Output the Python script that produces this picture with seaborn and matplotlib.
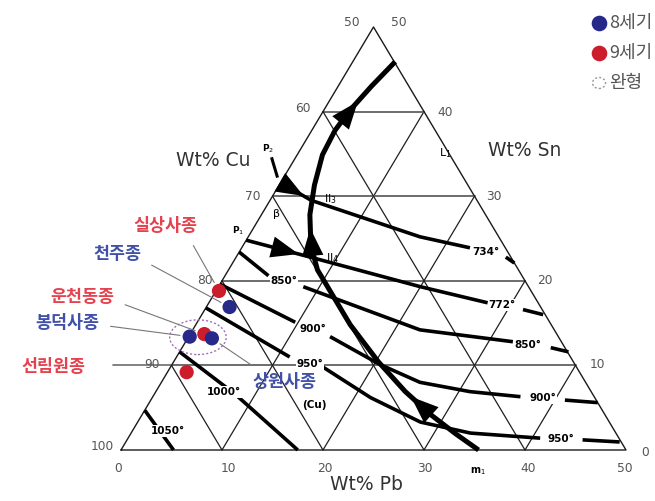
import numpy as np
import pandas as pd
import matplotlib
matplotlib.use("Agg")
import matplotlib.pyplot as plt
from matplotlib.patches import Ellipse
import seaborn as sns

# ---- bell compositions (Wt% Pb, Wt% Sn; Cu is the balance) ----
bell_names = ["실상사종", "천주종", "운천동종", "봉덕사종", "상원사종", "선림원종"]
bell_pb = [0.3, 2.3, 1.4, 0.1, 2.4, 1.9]
bell_sn = [18.8, 16.9, 13.7, 13.4, 13.2, 9.2]
bell_century = ["9세기", "8세기", "9세기", "8세기", "8세기", "9세기"]

# ---- liquidus valley (m1 up to the Sn side) ----
valley_pb = [4.2, 3.3, 2.6, 2.3, 2.5, 3.5, 4.8, 6.7, 8.8, 11.4, 15.3, 20.3, 24.7, 28.7, 32.2, 35.4]
valley_sn = [45.9, 43.0, 40.2, 37.8, 34.9, 31.3, 27.8, 24.2, 21.3, 18.7, 14.8, 10.4, 6.9, 4.1, 1.9, 0.0]

# ---- univariant lines from P2 / P1 and isotherms ----
p2_tick_pb, p2_tick_sn = [-2.4, -0.6], [34.6, 32.2]
p2_pb, p2_sn = [0.0, 4.1], [31.6, 29.5]
p1_pb, p1_sn = [0.0, 7.7], [24.8, 22.7]
iso734_pb, iso734_sn = [4.1, 17.0, 22.6], [29.5, 25.2, 23.9]
iso734_tail_pb, iso734_tail_sn = [26.7, 27.9], [22.8, 22.1]
iso772_pb, iso772_sn = [7.7, 20.0, 27.6], [22.7, 19.3, 17.4]
iso772_tail_pb, iso772_tail_sn = [31.5, 33.8], [16.6, 16.0]
iso850a_pb, iso850a_sn = [0.0, 4.3], [23.4, 20.6]
iso850b_pb, iso850b_sn = [8.4, 22.5, 32.4], [19.3, 14.2, 12.8]
iso850_tail_pb, iso850_tail_sn = [36.5, 38.5], [12.1, 11.6]
iso900a_pb, iso900a_sn = [0.0, 9.7], [19.6, 15.1]
iso900b_pb, iso900b_sn = [14.0, 20.6, 25.6, 31.1, 36.4], [13.4, 10.1, 8.0, 6.9, 6.3]
iso900_tail_pb, iso900_tail_sn = [41.0, 44.4], [5.9, 5.6]
iso950a_pb, iso950a_sn = [0.0, 11.2], [16.8, 11.0]
iso950b_pb, iso950b_sn = [15.1, 21.6, 28.0, 33.6, 40.8], [9.8, 6.2, 3.3, 2.0, 1.4]
iso950_tail_pb, iso950_tail_sn = [45.1, 48.9], [1.2, 0.95]
iso1000_pb, iso1000_sn = [0.0, 8.0, 17.5], [11.6, 6.6, 0.0]
iso1050_pb, iso1050_sn = [0.0, 5.2], [4.7, 0.0]

grid_steps = [10, 20, 30, 40]
cu_ticks = ["100", "90", "80", "70", "60", "50"]
sn_ticks = ["0", "10", "20", "30", "40", "50"]
pb_ticks = ["0", "10", "20", "30", "40", "50"]

RED_TXT = "#e5424f"
BLUE_TXT = "#4150a8"
century_colors = {"8세기": "#26288a", "9세기": "#cc1d2c"}

sns.set_theme(style="white")
plt.rcParams["font.family"] = ["Noto Sans CJK KR", "DejaVu Sans"]

W, H = 655, 501
fig = plt.figure(figsize=(W / 100, H / 100), dpi=100)
ax = fig.add_axes([0, 0, 1, 1])
ax.set_xlim(-121 / 10.1, (W - 121) / 10.1)
ax.set_ylim((450 - H) / 8.46, 450 / 8.46)
ax.axis("off")


def tern(pb, sn):
    """Ternary (Pb, Sn) -> plane coordinates of the triangle."""
    pb = np.asarray(pb, float)
    sn = np.asarray(sn, float)
    return pb + sn / 2.0, sn


def at(px, py):
    """Layout position given in figure pixels -> axes fraction."""
    return px / W, 1 - py / H


# ---- triangle frame and grid ----
ax.plot(*tern([0, 50, 0, 0], [0, 0, 50, 0]), color="#1a1a1a", lw=1.0, zorder=2)
for k in grid_steps:
    ax.plot(*tern([0, 50 - k], [k, k]), color="#6c6c6c", lw=1.4, zorder=1)
    ax.plot(*tern([k, k], [0, 50 - k]), color="#1f1f1f", lw=0.9, zorder=1)
    ax.plot(*tern([k, 0], [0, k]), color="#1f1f1f", lw=0.9, zorder=1)
# Sn = 10 reference extended to the left as a leader
x10, y10 = tern(0, 10)
ax.plot([x10 - 5.8, x10], [y10, y10], color="#6c6c6c", lw=1.2, zorder=1)

# ---- thick phase lines ----
def thick(pb, sn, lw=2.6):
    ax.plot(*tern(pb, sn), color="black", lw=lw, solid_capstyle="butt", zorder=3)

for pb, sn in [(p2_pb, p2_sn), (p1_pb, p1_sn),
               (iso734_pb, iso734_sn), (iso734_tail_pb, iso734_tail_sn),
               (iso772_pb, iso772_sn), (iso772_tail_pb, iso772_tail_sn),
               (iso850a_pb, iso850a_sn), (iso850b_pb, iso850b_sn), (iso850_tail_pb, iso850_tail_sn),
               (iso900a_pb, iso900a_sn), (iso900b_pb, iso900b_sn), (iso900_tail_pb, iso900_tail_sn),
               (iso950a_pb, iso950a_sn), (iso950b_pb, iso950b_sn), (iso950_tail_pb, iso950_tail_sn),
               (iso1000_pb, iso1000_sn), (iso1050_pb, iso1050_sn)]:
    thick(pb, sn)
thick(p2_tick_pb, p2_tick_sn, lw=2.2)
thick(valley_pb, valley_sn, lw=3.6)


def on_valley(sn):
    order = np.argsort(valley_sn)
    pb = np.interp(sn, np.asarray(valley_sn)[order], np.asarray(valley_pb)[order])
    return tern(pb, sn)


def head(tip, tail, size=22):
    ax.annotate("", xy=tip, xytext=tail,
                arrowprops=dict(arrowstyle="-|>,head_length=0.9,head_width=0.35",
                                mutation_scale=size, color="black", lw=0,
                                shrinkA=0, shrinkB=0), zorder=4)


# arrows running up the valley
head(on_valley(41.2), on_valley(38.6))
head(on_valley(26.2), on_valley(23.6))
head(on_valley(6.3), on_valley(4.3))


def along(pb, sn, t):
    x, y = tern(pb, sn)
    return x[0] + t * (x[1] - x[0]), y[0] + t * (y[1] - y[0])


head(along(p2_pb, p2_sn, 0.75), along(p2_pb, p2_sn, 0.10))
head(along(p1_pb, p1_sn, 0.78), along(p1_pb, p1_sn, 0.40))

# ---- isotherm and field labels ----
iso_font = dict(fontsize=7.5, fontweight="bold", family="DejaVu Sans", color="black",
                ha="center", va="center", transform=ax.transAxes, zorder=5,
                bbox=dict(boxstyle="square,pad=0.05", fc="white", ec="none"))
for txt, px, py in [("734°", 486, 252), ("772°", 502, 305), ("850°", 528, 345),
                    ("900°", 543, 398), ("950°", 561, 439), ("850°", 284, 281),
                    ("900°", 313, 329), ("950°", 310, 364), ("1000°", 224, 392),
                    ("1050°", 168, 431)]:
    ax.text(*at(px, py), txt, **iso_font)

small = dict(family="DejaVu Sans", color="black", ha="center", va="center",
             transform=ax.transAxes, zorder=5)
ax.text(*at(268, 149), "P$_2$", fontsize=6.5, fontweight="bold", **small)
ax.text(*at(238, 231), "P$_1$", fontsize=6.5, fontweight="bold", **small)
ax.text(*at(276, 214), "β", fontsize=8, **small)
ax.text(*at(330, 199), "II$_3$", fontsize=8, **small)
ax.text(*at(333, 258), "II$_4$", fontsize=8, **small)
ax.text(*at(445, 153), "L$_1$", fontsize=8, **small)
ax.text(*at(478, 471), "m$_1$", fontsize=7, fontweight="bold", **small)
ax.text(*at(314, 405), "(Cu)", fontsize=7.5, fontweight="bold", **small)

# ---- tick labels and axis titles ----
tick_font = dict(fontsize=8.8, family="DejaVu Sans", color="#555555",
                 ha="center", va="center", transform=ax.transAxes)
for lab, (px, py) in zip(cu_ticks, [(102, 447), (152, 365), (205, 280), (253, 197), (303, 108), (352, 23)]):
    ax.text(*at(px, py), lab, **tick_font)
for lab, (px, py) in zip(sn_ticks, [(645, 452), (597, 365), (545, 281), (494, 196), (445, 112), (399, 23)]):
    ax.text(*at(px, py), lab, **tick_font)
for lab, px in zip(pb_ticks, [118, 228, 325, 425, 528, 625]):
    ax.text(*at(px, 468), lab, **tick_font)

title_font = dict(fontsize=13.5, family="DejaVu Sans", color="#333333",
                  ha="center", va="center", transform=ax.transAxes)
ax.text(*at(213, 160), "Wt% Cu", **title_font)
ax.text(*at(525, 151), "Wt% Sn", **title_font)
ax.text(*at(366, 484), "Wt% Pb", **title_font)

# ---- bells ----
bx, by = tern(bell_pb, bell_sn)
bells = pd.DataFrame({"x": bx, "y": by, "bell": bell_names, "century": bell_century})
sns.scatterplot(data=bells, x="x", y="y", hue="century", palette=century_colors,
                s=105, edgecolor="none", legend=False, ax=ax, zorder=6)

# cluster of intact bells
grp = bells[bells["bell"].isin(["운천동종", "봉덕사종", "상원사종"])]
ax.add_patch(Ellipse((grp["x"].mean() - 0.4, grp["y"].mean() - 0.1), width=5.6, height=4.1,
                     fill=False, ec="#a070b8", lw=1.0, ls=(0, (1.5, 1.5)), zorder=5))

label_pos = {"실상사종": (165, 226, RED_TXT, (0.85, 0.0)),
             "천주종": (117, 254, BLUE_TXT, (1.0, 0.2)),
             "운천동종": (82, 297, RED_TXT, (1.0, 0.3)),
             "봉덕사종": (67, 323, BLUE_TXT, (1.0, 0.4)),
             "선림원종": (53, 367, RED_TXT, (1.0, 0.5)),
             "상원사종": (285, 382, BLUE_TXT, (0.2, 0.9))}
for _, r in bells.iterrows():
    px, py, col, rel = label_pos[r["bell"]]
    ax.annotate(r["bell"], xy=(r["x"], r["y"]), xycoords="data",
                xytext=at(px, py), textcoords="axes fraction",
                fontsize=12.5, fontweight="bold", color=col, ha="center", va="center",
                arrowprops=dict(arrowstyle="-", color="#777777", lw=0.8, relpos=rel,
                                shrinkA=6, shrinkB=7,
                                alpha=0.0 if r["bell"] == "선림원종" else 1.0),
                zorder=7)

# ---- legend at top right (runs past the edge) ----
leg = [("8세기", century_colors["8세기"], 23), ("9세기", century_colors["9세기"], 53)]
for txt, col, py in leg:
    ax.scatter(*at(599, py), s=105, color=col, transform=ax.transAxes, zorder=6)
    ax.text(*at(609, py), txt, fontsize=13, color="#555555", ha="left", va="center",
            transform=ax.transAxes)
ax.add_patch(Ellipse(at(599, 83), width=13 / W, height=11 / H, transform=ax.transAxes,
                     fill=False, ec="#999999", lw=1.0, ls=(0, (1.5, 1.5))))
ax.text(*at(609, 83), "완형", fontsize=13, color="#555555", ha="left", va="center",
        transform=ax.transAxes)

fig.savefig("out.png", dpi=100, facecolor="white")
